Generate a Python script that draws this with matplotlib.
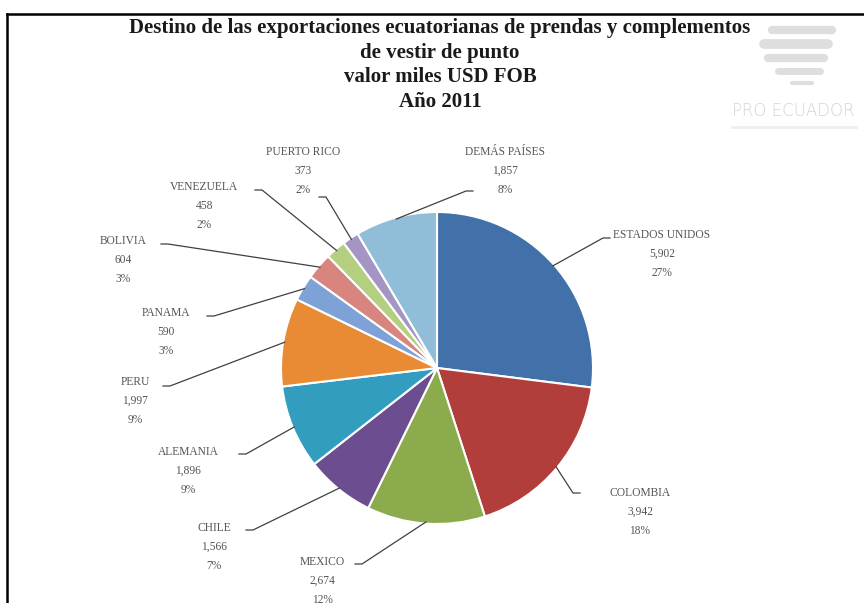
import numpy as np
import matplotlib.pyplot as plt

# Exportaciones 2011, miles USD FOB
paises = ["ESTADOS UNIDOS", "COLOMBIA", "MEXICO", "CHILE", "ALEMANIA", "PERU",
          "PANAMA", "BOLIVIA", "VENEZUELA", "PUERTO RICO", "DEMÁS PAÍSES"]
valores = [5902, 3942, 2674, 1566, 1896, 1997, 590, 604, 458, 373, 1857]
colores = ["#4271a9", "#b23e3b", "#8cab4c", "#6c4d8f", "#339dbf", "#e98a34",
           "#7fa2d6", "#d8847f", "#b5cf80", "#a595c5", "#90bdd8"]

titulo = ("Destino de las exportaciones ecuatorianas de prendas y complementos\n"
          "de vestir de punto\nvalor miles USD FOB\nAño 2011")

W, H = 864, 603


def px(x, y):
    # pixel coords (origin top-left) -> data coords
    return x, H - y


# label centre and leader elbow (pixels), side of the short horizontal tick
etiquetas = [
    ((662, 254), (603, 238), 1),
    ((640, 512), (573, 493), 1),
    ((322, 581), (362, 564), -1),
    ((214, 547), (253, 530), -1),
    ((188, 471), (246, 454), -1),
    ((135, 401), (170, 386), -1),
    ((166, 332), (214, 316), -1),
    ((123, 260), (168, 244), -1),
    ((204, 206), (262, 190), -1),
    ((303, 171), (326, 197), -1),
    ((505, 171), (466, 191), 1),
]

fig = plt.figure(figsize=(W / 100, H / 100), dpi=100)
ax = fig.add_axes([0, 0, 1, 1])

cx, cy = px(437, 368)
r = 156
wedges, _ = ax.pie(valores, colors=colores, startangle=90, counterclock=False,
                   center=(cx, cy), radius=r, frame=True,
                   wedgeprops=dict(edgecolor="white", linewidth=1.5))
ax.set_xlim(0, W)
ax.set_ylim(0, H)
ax.set_aspect("equal")
ax.axis("off")

total = sum(valores)
for w, nombre, v, ((tx, ty), (ex, ey), lado) in zip(wedges, paises, valores, etiquetas):
    ang = np.deg2rad((w.theta1 + w.theta2) / 2)
    x0 = cx + r * 0.99 * np.cos(ang)
    y0 = cy + r * 0.99 * np.sin(ang)
    ex, ey = px(ex, ey)
    ax.plot([x0, ex, ex + 7 * lado], [y0, ey, ey], color="#404040", lw=0.9)
    tx, ty = px(tx, ty)
    ax.text(tx, ty, f"{nombre}\n{v:,}\n{v / total:.0%}", ha="center", va="center",
            fontsize=8.3, family="Liberation Serif", color="#555555",
            linespacing=1.75)

# titulo
ax.text(*px(440, 65), titulo, ha="center", va="center", fontsize=15,
        family="Liberation Serif", fontweight="bold", color="#1a1a1a",
        linespacing=1.32)

# logo tenue arriba a la derecha
for y, x1, x2, lw in [(30, 772, 832, 6), (44, 764, 828, 7), (58, 768, 824, 6),
                      (71, 778, 820, 5), (83, 792, 812, 3)]:
    ax.plot([x1, x2], [H - y, H - y], color="#dedede", lw=lw,
            solid_capstyle="round")
ax.text(*px(793, 111), "PRO ECUADOR", ha="center", va="center", fontsize=12,
        family="DejaVu Sans", color="#d4d4d4", fontweight="light")
ax.plot([732, 856], [H - 127, H - 127], color="#eeeeee", lw=2)

# marco superior e izquierdo
ax.plot([7, W], [H - 14, H - 14], color="black", lw=1.8)
ax.plot([7, 7], [H - 14, 0], color="black", lw=1.8)

fig.savefig("out.png", dpi=100)
